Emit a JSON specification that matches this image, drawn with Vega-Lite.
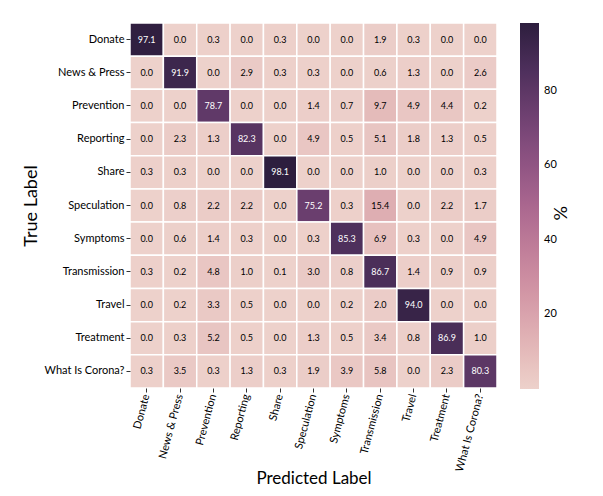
{
  "$schema": "https://vega.github.io/schema/vega-lite/v6.json",
  "width": 367,
  "height": 365,
  "autosize": {"type": "none"},
  "padding": {"left": 130, "top": 23, "right": 106, "bottom": 108},
  "background": "white",
  "config": {
    "font": "Lato",
    "view": {"stroke": null},
    "axis": {"labelFont": "Lato", "titleFont": "Lato", "labelColor": "#000000", "titleColor": "#000000", "tickColor": "#333333", "domain": false, "grid": false},
    "legend": {"labelFont": "Lato", "titleFont": "Lato"}
  },
  "data": {
    "values": [
      {"t":"Donate","p":"Donate","v":97.1},{"t":"Donate","p":"News & Press","v":0.0},{"t":"Donate","p":"Prevention","v":0.3},{"t":"Donate","p":"Reporting","v":0.0},{"t":"Donate","p":"Share","v":0.3},{"t":"Donate","p":"Speculation","v":0.0},{"t":"Donate","p":"Symptoms","v":0.0},{"t":"Donate","p":"Transmission","v":1.9},{"t":"Donate","p":"Travel","v":0.3},{"t":"Donate","p":"Treatment","v":0.0},{"t":"Donate","p":"What Is Corona?","v":0.0},
      {"t":"News & Press","p":"Donate","v":0.0},{"t":"News & Press","p":"News & Press","v":91.9},{"t":"News & Press","p":"Prevention","v":0.0},{"t":"News & Press","p":"Reporting","v":2.9},{"t":"News & Press","p":"Share","v":0.3},{"t":"News & Press","p":"Speculation","v":0.3},{"t":"News & Press","p":"Symptoms","v":0.0},{"t":"News & Press","p":"Transmission","v":0.6},{"t":"News & Press","p":"Travel","v":1.3},{"t":"News & Press","p":"Treatment","v":0.0},{"t":"News & Press","p":"What Is Corona?","v":2.6},
      {"t":"Prevention","p":"Donate","v":0.0},{"t":"Prevention","p":"News & Press","v":0.0},{"t":"Prevention","p":"Prevention","v":78.7},{"t":"Prevention","p":"Reporting","v":0.0},{"t":"Prevention","p":"Share","v":0.0},{"t":"Prevention","p":"Speculation","v":1.4},{"t":"Prevention","p":"Symptoms","v":0.7},{"t":"Prevention","p":"Transmission","v":9.7},{"t":"Prevention","p":"Travel","v":4.9},{"t":"Prevention","p":"Treatment","v":4.4},{"t":"Prevention","p":"What Is Corona?","v":0.2},
      {"t":"Reporting","p":"Donate","v":0.0},{"t":"Reporting","p":"News & Press","v":2.3},{"t":"Reporting","p":"Prevention","v":1.3},{"t":"Reporting","p":"Reporting","v":82.3},{"t":"Reporting","p":"Share","v":0.0},{"t":"Reporting","p":"Speculation","v":4.9},{"t":"Reporting","p":"Symptoms","v":0.5},{"t":"Reporting","p":"Transmission","v":5.1},{"t":"Reporting","p":"Travel","v":1.8},{"t":"Reporting","p":"Treatment","v":1.3},{"t":"Reporting","p":"What Is Corona?","v":0.5},
      {"t":"Share","p":"Donate","v":0.3},{"t":"Share","p":"News & Press","v":0.3},{"t":"Share","p":"Prevention","v":0.0},{"t":"Share","p":"Reporting","v":0.0},{"t":"Share","p":"Share","v":98.1},{"t":"Share","p":"Speculation","v":0.0},{"t":"Share","p":"Symptoms","v":0.0},{"t":"Share","p":"Transmission","v":1.0},{"t":"Share","p":"Travel","v":0.0},{"t":"Share","p":"Treatment","v":0.0},{"t":"Share","p":"What Is Corona?","v":0.3},
      {"t":"Speculation","p":"Donate","v":0.0},{"t":"Speculation","p":"News & Press","v":0.8},{"t":"Speculation","p":"Prevention","v":2.2},{"t":"Speculation","p":"Reporting","v":2.2},{"t":"Speculation","p":"Share","v":0.0},{"t":"Speculation","p":"Speculation","v":75.2},{"t":"Speculation","p":"Symptoms","v":0.3},{"t":"Speculation","p":"Transmission","v":15.4},{"t":"Speculation","p":"Travel","v":0.0},{"t":"Speculation","p":"Treatment","v":2.2},{"t":"Speculation","p":"What Is Corona?","v":1.7},
      {"t":"Symptoms","p":"Donate","v":0.0},{"t":"Symptoms","p":"News & Press","v":0.6},{"t":"Symptoms","p":"Prevention","v":1.4},{"t":"Symptoms","p":"Reporting","v":0.3},{"t":"Symptoms","p":"Share","v":0.0},{"t":"Symptoms","p":"Speculation","v":0.3},{"t":"Symptoms","p":"Symptoms","v":85.3},{"t":"Symptoms","p":"Transmission","v":6.9},{"t":"Symptoms","p":"Travel","v":0.3},{"t":"Symptoms","p":"Treatment","v":0.0},{"t":"Symptoms","p":"What Is Corona?","v":4.9},
      {"t":"Transmission","p":"Donate","v":0.3},{"t":"Transmission","p":"News & Press","v":0.2},{"t":"Transmission","p":"Prevention","v":4.8},{"t":"Transmission","p":"Reporting","v":1.0},{"t":"Transmission","p":"Share","v":0.1},{"t":"Transmission","p":"Speculation","v":3.0},{"t":"Transmission","p":"Symptoms","v":0.8},{"t":"Transmission","p":"Transmission","v":86.7},{"t":"Transmission","p":"Travel","v":1.4},{"t":"Transmission","p":"Treatment","v":0.9},{"t":"Transmission","p":"What Is Corona?","v":0.9},
      {"t":"Travel","p":"Donate","v":0.0},{"t":"Travel","p":"News & Press","v":0.2},{"t":"Travel","p":"Prevention","v":3.3},{"t":"Travel","p":"Reporting","v":0.5},{"t":"Travel","p":"Share","v":0.0},{"t":"Travel","p":"Speculation","v":0.0},{"t":"Travel","p":"Symptoms","v":0.2},{"t":"Travel","p":"Transmission","v":2.0},{"t":"Travel","p":"Travel","v":94.0},{"t":"Travel","p":"Treatment","v":0.0},{"t":"Travel","p":"What Is Corona?","v":0.0},
      {"t":"Treatment","p":"Donate","v":0.0},{"t":"Treatment","p":"News & Press","v":0.3},{"t":"Treatment","p":"Prevention","v":5.2},{"t":"Treatment","p":"Reporting","v":0.5},{"t":"Treatment","p":"Share","v":0.0},{"t":"Treatment","p":"Speculation","v":1.3},{"t":"Treatment","p":"Symptoms","v":0.5},{"t":"Treatment","p":"Transmission","v":3.4},{"t":"Treatment","p":"Travel","v":0.8},{"t":"Treatment","p":"Treatment","v":86.9},{"t":"Treatment","p":"What Is Corona?","v":1.0},
      {"t":"What Is Corona?","p":"Donate","v":0.3},{"t":"What Is Corona?","p":"News & Press","v":3.5},{"t":"What Is Corona?","p":"Prevention","v":0.3},{"t":"What Is Corona?","p":"Reporting","v":1.3},{"t":"What Is Corona?","p":"Share","v":0.3},{"t":"What Is Corona?","p":"Speculation","v":1.9},{"t":"What Is Corona?","p":"Symptoms","v":3.9},{"t":"What Is Corona?","p":"Transmission","v":5.8},{"t":"What Is Corona?","p":"Travel","v":0.0},{"t":"What Is Corona?","p":"Treatment","v":2.3},{"t":"What Is Corona?","p":"What Is Corona?","v":80.3}
    ]
  },
  "encoding": {
    "x": {
      "field": "p", "type": "nominal", "sort": null,
      "title": "Predicted Label",
      "scale": {"paddingInner": 0, "paddingOuter": 0},
      "axis": {"labelAngle": -75, "labelFontSize": 11, "titleFontSize": 17, "titleFontWeight": "normal", "tickSize": 4, "labelPadding": 2, "titlePadding": -2}
    },
    "y": {
      "field": "t", "type": "nominal", "sort": null,
      "title": "True Label",
      "scale": {"paddingInner": 0, "paddingOuter": 0},
      "axis": {"labelFontSize": 11, "titleFontSize": 18, "titleFontWeight": "normal", "tickSize": 4, "labelPadding": 2, "titlePadding": 4}
    }
  },
  "layer": [
    {
      "mark": {"type": "rect", "stroke": "white", "strokeWidth": 1.5},
      "encoding": {
        "color": {
          "field": "v", "type": "quantitative", "title": "%",
          "scale": {"domain": [0, 98.1], "interpolate": "rgb", "range": ["#edd1cb","#e2b5b6","#d499a7","#c17f9a","#aa678f","#8d5282","#6e4071","#4d2f5b","#2d1e3e"]},
          "legend": {
            "values": [20, 40, 60, 80],
            "gradientLength": 366, "gradientThickness": 19, "offset": 23,
            "labelFontSize": 11, "labelOffset": 5, "labelColor": "#000000",
            "titleOrient": "right", "titleAnchor": "middle", "titleAngle": 0, "titleBaseline": "middle", "titleAlign": "left", "titleFontSize": 18, "titleFontWeight": "normal", "titlePadding": 2, "titleColor": "#000000"
          }
        }
      }
    },
    {
      "mark": {"type": "text", "fontSize": 9, "font": "Lato"},
      "encoding": {
        "text": {"field": "v", "type": "quantitative", "format": ".1f"},
        "color": {"condition": {"test": "datum.v > 50", "value": "white"}, "value": "black"}
      }
    }
  ]
}
